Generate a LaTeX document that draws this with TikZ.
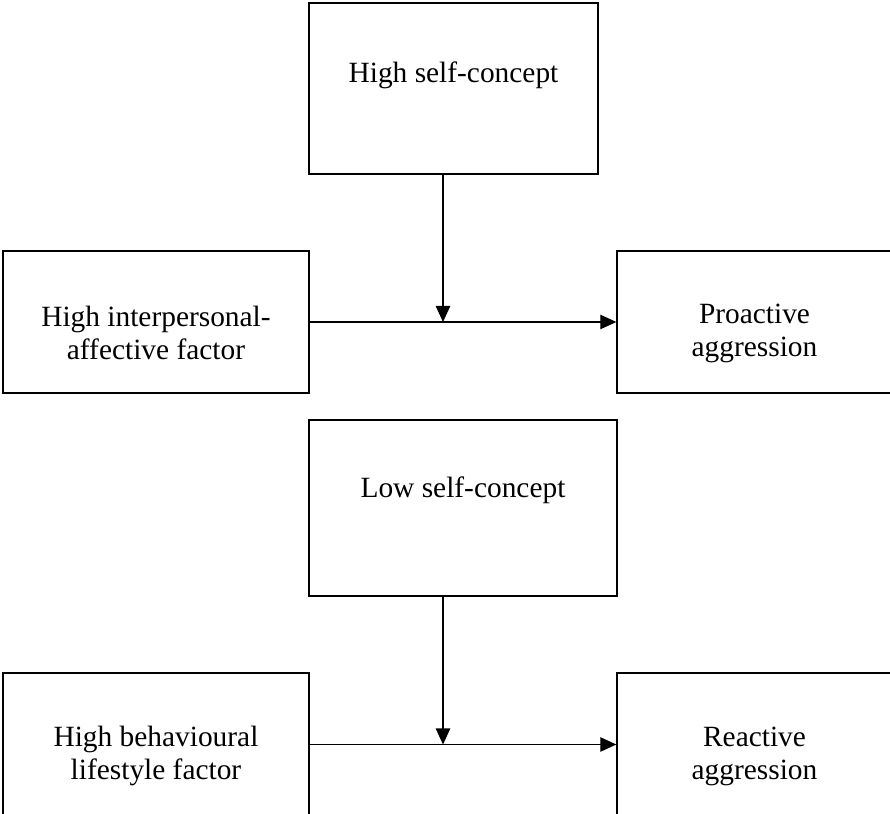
\documentclass[tikz,border=0pt]{standalone}
\usepackage{fontspec}
\setmainfont{Liberation Serif}
\usetikzlibrary{arrows.meta,positioning}

\newcommand{\lift}{\rule{0pt}{1.45em}}

\begin{document}
\begin{tikzpicture}[
  x=0.025cm, y=-0.025cm,
  font=\fontsize{20.9}{23.5}\selectfont,
  >={Triangle[length=0.4cm,width=0.36cm]},
  block/.style={draw,line width=0.9pt,align=center,inner sep=0pt,minimum height=3.55cm},
  topblock/.style={block,text height=0.7em},
  flow/.style={->,line width=0.8pt}
]
\useasboundingbox (0,0) rectangle (890,814);

\node[topblock,text depth=1.6em,minimum width=7.225cm,minimum height=4.275cm] (hsc) at (453.5,88.5) {High self-concept};
\node[block,minimum width=7.65cm] (hipa) at (156,322) {\lift High interpersonal-\\affective factor};
\node[block,minimum width=6.875cm] (pa) at (754.5,322) {\lift Proactive\\aggression};

\node[topblock,text depth=2.2em,minimum width=7.7cm,minimum height=4.4cm] (lsc) at (463,508) {Low self-concept};
\node[block,minimum width=7.65cm,minimum height=3.575cm] (hbl) at (156,744.5) {\lift High behavioural\\lifestyle factor};
\node[block,minimum width=6.875cm,minimum height=3.575cm] (ra) at (754.5,744.5) {\lift Reactive\\aggression};

\coordinate (j1) at (443,322);
\coordinate (j2) at (443,744.5);

\draw[flow] (hipa.east) -- (pa.west);
\draw[flow] (hsc.south -| j1) -- (j1);
\draw[flow] (hbl.east) -- (ra.west);
\draw[flow] (lsc.south -| j2) -- (j2);
\end{tikzpicture}
\end{document}
